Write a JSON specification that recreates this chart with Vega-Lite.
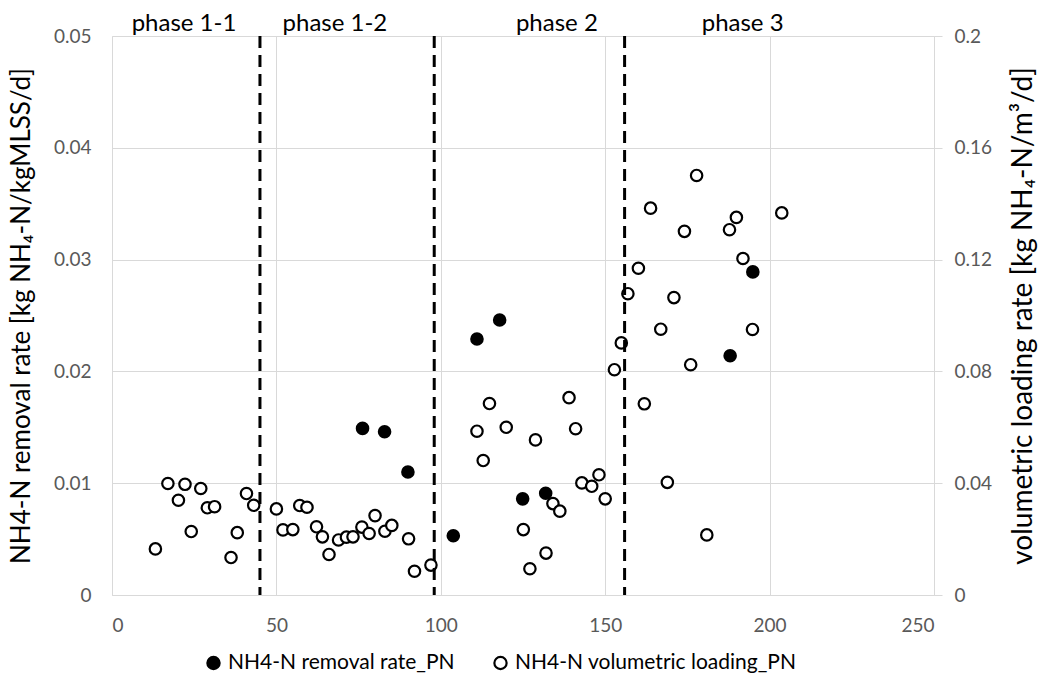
{
  "$schema": "https://vega.github.io/schema/vega-lite/v6.json",
  "width": 822,
  "height": 559,
  "autosize": "none",
  "padding": {"left": 112, "top": 36, "right": 108, "bottom": 86},
  "background": "white",
  "config": {
    "font": "Lato",
    "view": {"stroke": null},
    "axis": {
      "labelFont": "Lato",
      "titleFont": "Lato",
      "labelColor": "#595959",
      "labelFontSize": 19,
      "titleColor": "#000000",
      "titleFontSize": 26,
      "titleFontWeight": "normal",
      "gridColor": "#d9d9d9",
      "gridWidth": 1,
      "domainColor": "#d9d9d9",
      "tickColor": "#d9d9d9"
    }
  },
  "datasets": {
    "removal": [
      {"day": 76.2, "rate": 0.0149},
      {"day": 82.9, "rate": 0.0146},
      {"day": 90.0, "rate": 0.0110},
      {"day": 103.8, "rate": 0.0053},
      {"day": 111.0, "rate": 0.0229},
      {"day": 117.9, "rate": 0.0246},
      {"day": 124.9, "rate": 0.0086},
      {"day": 131.9, "rate": 0.0091},
      {"day": 188.0, "rate": 0.0214},
      {"day": 194.9, "rate": 0.0289}
    ],
    "loading": [
      {"day": 13.2, "load": 0.0165},
      {"day": 17.0, "load": 0.0399},
      {"day": 20.2, "load": 0.0339},
      {"day": 22.2, "load": 0.0396},
      {"day": 24.1, "load": 0.0227},
      {"day": 27.0, "load": 0.0381},
      {"day": 29.0, "load": 0.0312},
      {"day": 31.2, "load": 0.0316},
      {"day": 36.2, "load": 0.0134},
      {"day": 38.1, "load": 0.0223},
      {"day": 40.9, "load": 0.0363},
      {"day": 43.1, "load": 0.0321},
      {"day": 50.0, "load": 0.0308},
      {"day": 52.0, "load": 0.0233},
      {"day": 55.0, "load": 0.0234},
      {"day": 57.1, "load": 0.0320},
      {"day": 59.3, "load": 0.0314},
      {"day": 62.2, "load": 0.0244},
      {"day": 64.0, "load": 0.0208},
      {"day": 66.0, "load": 0.0145},
      {"day": 68.9, "load": 0.0197},
      {"day": 71.3, "load": 0.0207},
      {"day": 73.3, "load": 0.0208},
      {"day": 76.0, "load": 0.0243},
      {"day": 78.2, "load": 0.0220},
      {"day": 80.0, "load": 0.0284},
      {"day": 83.0, "load": 0.0228},
      {"day": 85.1, "load": 0.0249},
      {"day": 90.2, "load": 0.0201},
      {"day": 92.0, "load": 0.0085},
      {"day": 97.0, "load": 0.0107},
      {"day": 111.0, "load": 0.0586},
      {"day": 112.9, "load": 0.0481},
      {"day": 114.8, "load": 0.0685},
      {"day": 119.9, "load": 0.0600},
      {"day": 125.1, "load": 0.0234},
      {"day": 127.1, "load": 0.0094},
      {"day": 128.8, "load": 0.0555},
      {"day": 132.0, "load": 0.0150},
      {"day": 134.1, "load": 0.0327},
      {"day": 136.2, "load": 0.0300},
      {"day": 139.0, "load": 0.0706},
      {"day": 141.0, "load": 0.0595},
      {"day": 142.9, "load": 0.0401},
      {"day": 145.9, "load": 0.0389},
      {"day": 148.1, "load": 0.0430},
      {"day": 150.0, "load": 0.0344},
      {"day": 152.8, "load": 0.0806},
      {"day": 154.9, "load": 0.0902},
      {"day": 156.9, "load": 0.1078},
      {"day": 160.1, "load": 0.1169},
      {"day": 161.9, "load": 0.0684},
      {"day": 163.8, "load": 0.1384},
      {"day": 166.9, "load": 0.0951},
      {"day": 168.9, "load": 0.0403},
      {"day": 170.9, "load": 0.1064},
      {"day": 174.1, "load": 0.1301},
      {"day": 176.0, "load": 0.0824},
      {"day": 177.8, "load": 0.1501},
      {"day": 180.9, "load": 0.0215},
      {"day": 187.8, "load": 0.1307},
      {"day": 189.9, "load": 0.1351},
      {"day": 191.9, "load": 0.1204},
      {"day": 194.8, "load": 0.0950},
      {"day": 203.7, "load": 0.1367}
    ],
    "phases": [
      {"day": 21.9, "label": "phase 1-1"},
      {"day": 67.8, "label": "phase 1-2"},
      {"day": 135.3, "label": "phase 2"},
      {"day": 191.8, "label": "phase 3"}
    ],
    "bounds": [
      {"day": 45.0},
      {"day": 98.0},
      {"day": 155.9}
    ]
  },
  "layer": [
    {
      "layer": [
        {
          "data": {"name": "removal"},
          "mark": {"type": "point", "shape": "circle", "filled": true, "size": 130, "stroke": "black", "strokeWidth": 2.2, "opacity": 1},
          "encoding": {
            "x": {
              "field": "day", "type": "quantitative",
              "scale": {"domain": [0, 250], "nice": false, "zero": false},
              "axis": {"title": null, "values": [0, 50, 100, 150, 200, 250], "ticks": false, "labelPadding": 21, "domain": true, "grid": true}
            },
            "y": {
              "field": "rate", "type": "quantitative",
              "scale": {"domain": [0, 0.05], "nice": false},
              "axis": {
                "orient": "left",
                "title": "NH4-N removal rate [kg NH₄-N/kgMLSS/d]",
                "values": [0, 0.01, 0.02, 0.03, 0.04, 0.05],
                "format": "~g",
                "ticks": false,
                "labelPadding": 21,
                "titlePadding": 19,
                "domain": true,
                "grid": true
              }
            },
            "fill": {
              "datum": "NH4-N removal rate_PN",
              "type": "nominal",
              "scale": {"domain": ["NH4-N removal rate_PN", "NH4-N volumetric loading_PN"], "range": ["#000000", "#ffffff"]},
              "legend": {
                "title": null,
                "orient": "none",
                "direction": "horizontal",
                "legendX": 91,
                "legendY": 616,
                "labelFont": "Lato",
                "labelFontSize": 21,
                "labelColor": "#000000",
                "labelOffset": 4,
                "labelLimit": 500,
                "symbolType": "circle",
                "symbolSize": 150,
                "symbolStrokeColor": "#000000",
                "symbolStrokeWidth": 2.2,
                "columnPadding": 34
              }
            }
          }
        },
        {
          "data": {"name": "phases"},
          "mark": {"type": "text", "font": "Lato", "fontSize": 24, "color": "#000000", "dy": -5, "baseline": "alphabetic", "align": "center"},
          "encoding": {
            "x": {"field": "day", "type": "quantitative"},
            "y": {"datum": 0.05},
            "text": {"field": "label"}
          }
        }
      ]
    },
    {
      "data": {"name": "loading"},
      "mark": {"type": "point", "shape": "circle", "filled": true, "size": 130, "stroke": "black", "strokeWidth": 2.2, "opacity": 1},
      "encoding": {
        "x": {"field": "day", "type": "quantitative"},
        "y": {
          "field": "load", "type": "quantitative",
          "scale": {"domain": [0, 0.2], "nice": false},
          "axis": {
            "orient": "right",
            "title": "volumetric loading rate [kg NH₄-N/m³/d]",
            "titleFontSize": 28,
            "values": [0, 0.04, 0.08, 0.12, 0.16, 0.2],
            "format": "~g",
            "ticks": true,
            "tickSize": 8,
            "labelPadding": 12,
            "titleAngle": 270,
            "titleBaseline": "top",
            "titlePadding": 18,
            "domain": true,
            "grid": false
          }
        },
        "fill": {"datum": "NH4-N volumetric loading_PN", "type": "nominal"}
      }
    },
    {
      "data": {"name": "bounds"},
      "mark": {"type": "rule", "color": "#000000", "strokeWidth": 3, "strokeDash": [12, 7]},
      "encoding": {
        "x": {"field": "day", "type": "quantitative"}
      }
    }
  ],
  "resolve": {"scale": {"y": "independent"}}
}
